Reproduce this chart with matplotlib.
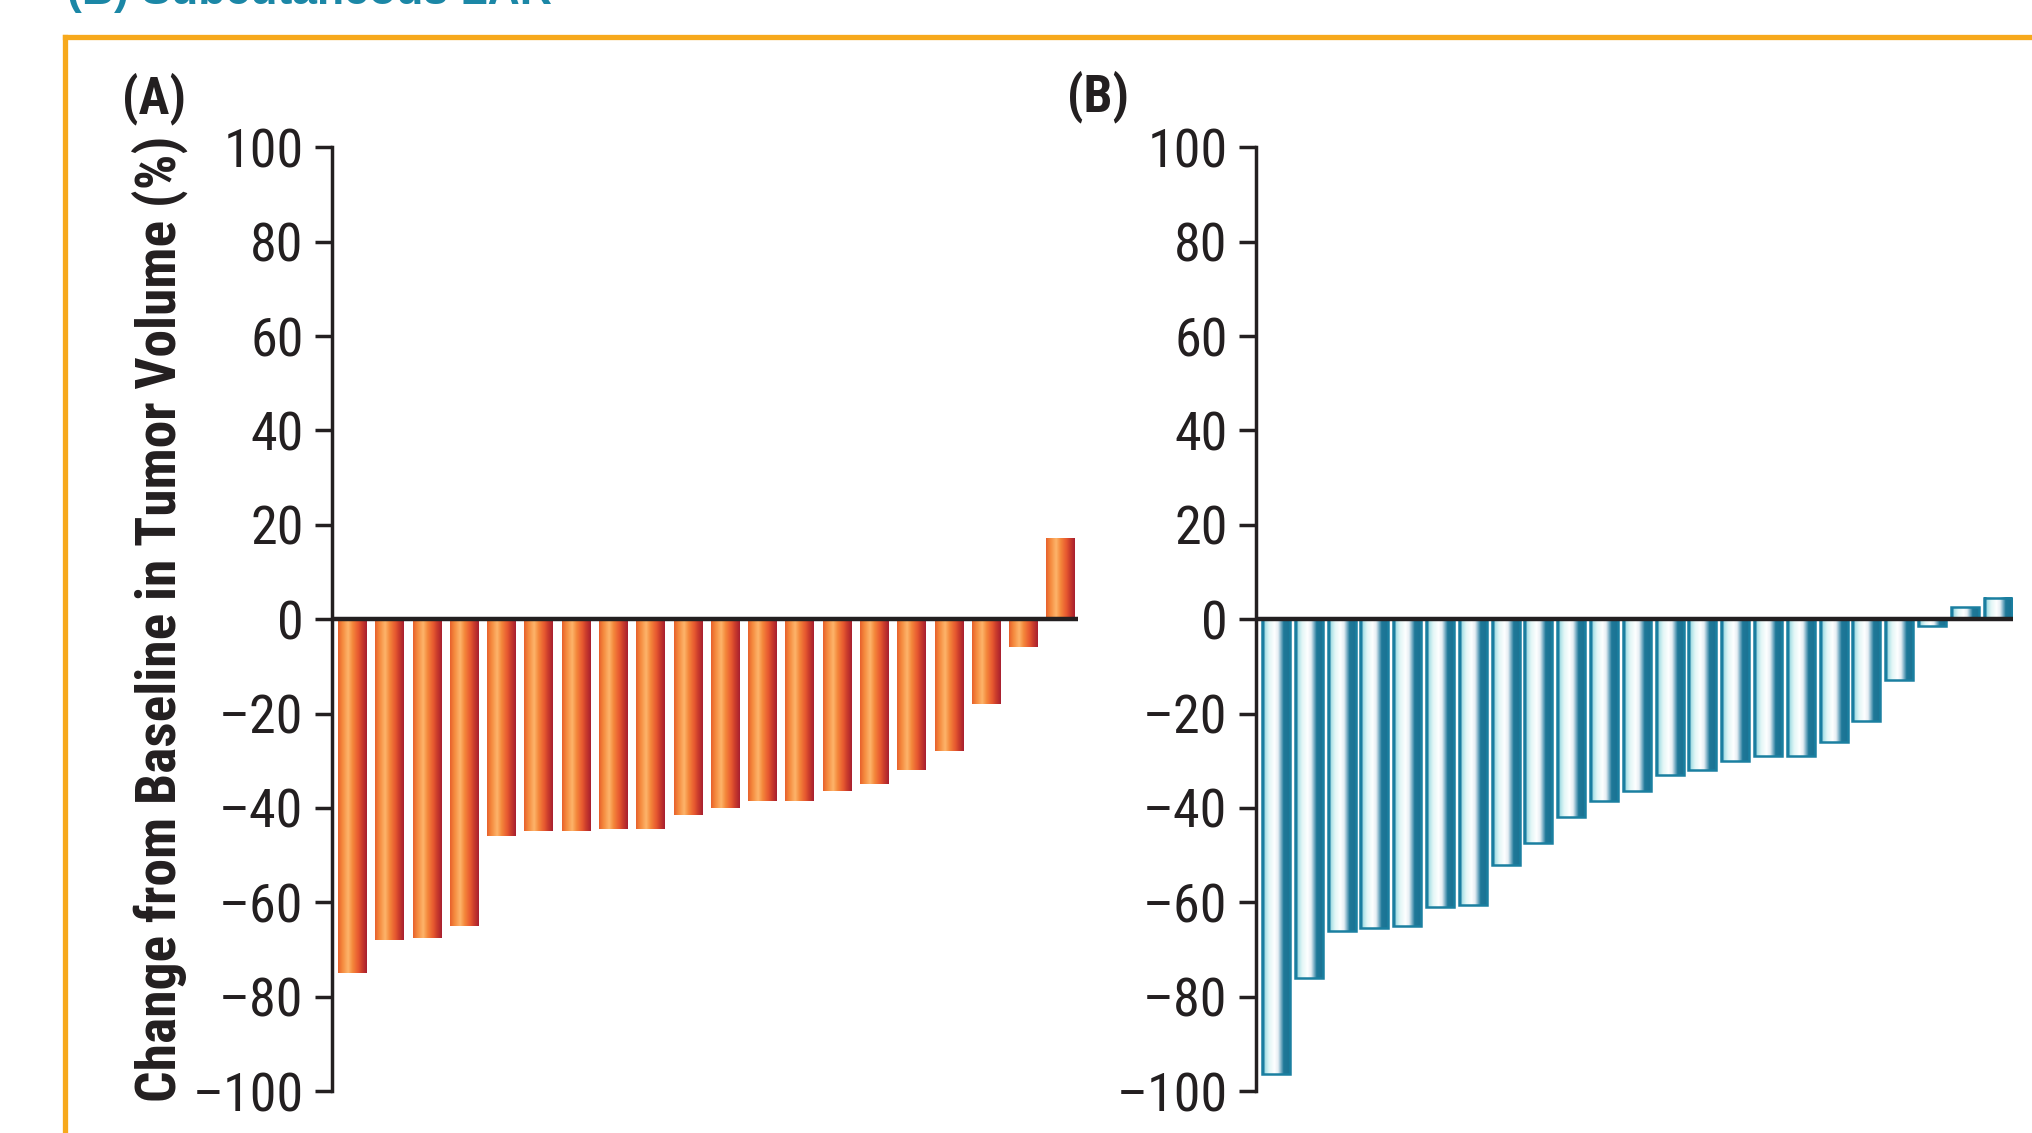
import numpy as np
import matplotlib.pyplot as plt
import matplotlib.font_manager as fm
from matplotlib.colors import LinearSegmentedColormap
from matplotlib.lines import Line2D

# Tumor volume change per animal (%)
values_a = [-75, -68, -67.5, -65, -46, -45, -45, -44.5, -44.5, -41.5,
            -40, -38.5, -38.5, -36.5, -35, -32, -28, -18, -6, 17]
values_b = [-96.5, -76, -66, -65.5, -65, -61, -60.5, -52, -47.5, -42,
            -38.5, -36.5, -33, -32, -30, -29, -29, -26, -21.5, -13,
            -1.5, 2.5, 4.5]
yticks = [100, 80, 60, 40, 20, 0, -20, -40, -60, -80, -100]
ytick_labels = ["100", "80", "60", "40", "20", "0",
                "\u201320", "\u201340", "\u201360", "\u201380", "\u2013100"]
ylabel = "Change from Baseline in Tumor Volume (%)"
panel_labels = ["(A)", "(B)"]
title = "(B) Subcutaneous LAR"

W, H = 2033, 1133
ink = "#231f20"

# the figure uses a condensed grotesque; take the narrowest one installed
fonts = fm.fontManager.ttflist
names = {f.name for f in fonts}
cond = dict(stretch="normal")
if "Liberation Sans Narrow" in names:
    narrow = ["Liberation Sans Narrow", "DejaVu Sans"]
elif "Roboto Condensed" in names:
    narrow = ["Roboto Condensed", "DejaVu Sans"]
elif any(f.name == "DejaVu Sans" and f.stretch == "condensed" for f in fonts):
    narrow = ["DejaVu Sans"]
    cond = dict(stretch="condensed")
else:
    narrow = ["Roboto", "DejaVu Sans"]

orange = LinearSegmentedColormap.from_list("orange", [
    (0.0, "#e8622c"), (0.15, "#f58a3e"), (0.35, "#fdb46a"), (0.5, "#f5893c"),
    (0.7, "#e85a30"), (0.85, "#c83a2c"), (1.0, "#a82030")])
teal = LinearSegmentedColormap.from_list("teal", [
    (0.0, "#1a7ca0"), (0.07, "#1a7ca0"), (0.1, "#a8e0e6"), (0.25, "#e2f6f6"),
    (0.45, "#ffffff"), (0.58, "#e6eef3"), (0.68, "#7fb2c8"), (0.78, "#1f7898"),
    (1.0, "#1a7394")])
grad = np.linspace(0, 1, 64).reshape(1, -1)

fig = plt.figure(figsize=(W / 100, H / 100), dpi=100)

# orange frame around the panels, cut by the page edge
fx, fy = 65 / W, 1 - 37 / H
fig.add_artist(Line2D([fx, fx], [-0.05, fy], color="#f7a91c", lw=3.8,
                      solid_capstyle="projecting"))
fig.add_artist(Line2D([fx, 1.05], [fy, fy], color="#f7a91c", lw=3.8,
                      solid_capstyle="projecting"))
fig.text(67 / W, 1 - 4 / H, title, color="#1b87a6", fontsize=32,
         fontweight="bold", family=["Liberation Sans", "DejaVu Sans"],
         ha="left", va="baseline")

bottom, height = 1 - 1091 / H, (1091 - 147.3) / H
ax_a = fig.add_axes([332 / W, bottom, 746 / W, height])
ax_b = fig.add_axes([1256 / W, bottom, 757 / W, height])


def waterfall(ax, vals, width, cmap, outline=None, xlim=None):
    x = np.arange(len(vals))
    for xi, v in zip(x, vals):
        ax.imshow(grad, cmap=cmap, aspect="auto", interpolation="bilinear",
                  extent=(xi - width / 2, xi + width / 2, 0, v), zorder=2)
    if outline:
        ax.bar(x, vals, width=width, facecolor="none", edgecolor=outline,
               linewidth=1.8, zorder=3)
    ax.axhline(0, color=ink, lw=3.2, zorder=4)
    ax.set_xlim(*xlim)
    ax.set_ylim(-100, 100)
    ax.set_xticks([])
    ax.set_yticks(yticks, ytick_labels)
    for s in ["top", "right", "bottom"]:
        ax.spines[s].set_visible(False)
    ax.spines["left"].set_linewidth(2.5)
    ax.spines["left"].set_color(ink)
    ax.tick_params(axis="y", length=12, width=2.5, color=ink, pad=8.5,
                   labelsize=39, labelcolor=ink)
    for lab in ax.get_yticklabels():
        lab.set_family(narrow)
        lab.set_stretch(cond["stretch"])


waterfall(ax_a, values_a, 0.77, orange, xlim=(-0.545, 19.46))
waterfall(ax_b, values_b, 0.85, teal, outline="#1a7fa0", xlim=(-0.61, 22.47))

ylab = fig.text(160 / W, 1 - 619 / H, ylabel, rotation=90, fontsize=36,
                fontweight="bold", family=narrow, color=ink,
                ha="center", va="center", **cond)
fig.text(154 / W, 1 - 99 / H, panel_labels[0], fontsize=37, fontweight="bold",
         family=narrow, color=ink, ha="center", va="center", **cond)
fig.text(1098 / W, 1 - 97 / H, panel_labels[1], fontsize=37, fontweight="bold",
         family=narrow, color=ink, ha="center", va="center", **cond)

# the axis title runs from about y=136 to y=1102 px in the original
r = fig.canvas.get_renderer()
span = ylab.get_window_extent(r).height
ylab.set_fontsize(min(44, 36 * 966 / span))

fig.savefig("out.png", dpi=100)
